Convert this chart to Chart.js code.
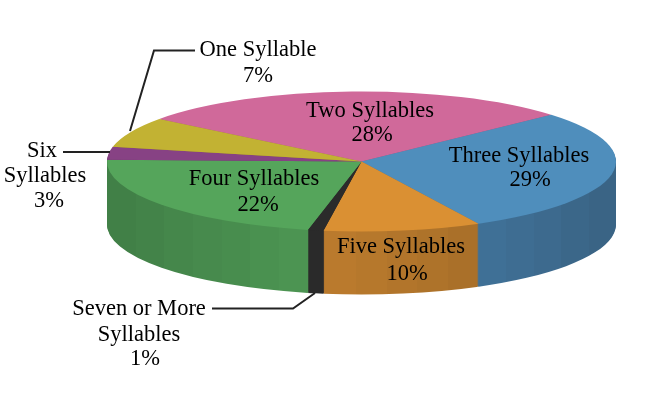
<!DOCTYPE html>
<html>
<head>
<meta charset="utf-8">
<title>Syllables</title>
<script src="https://cdn.jsdelivr.net/npm/chart.js@4"></script>
<style>
  html, body { margin: 0; padding: 0; background: #fff; }
  #wrap { width: 650px; height: 400px; }
</style>
</head>
<body>
<div id="wrap"><canvas id="grafico" width="650" height="400"></canvas></div>
<script>
const categorias = ['Two Syllables', 'Three Syllables', 'Five Syllables', 'Seven or More Syllables', 'Four Syllables', 'Six Syllables', 'One Syllable'];
const valores = [28, 29, 10, 1, 22, 3, 7];
const linhasNome = [['Two Syllables'], ['Three Syllables'], ['Five Syllables'], ['Seven or More', 'Syllables'], ['Four Syllables'], ['Six', 'Syllables'], ['One Syllable']];

const coresTopo = ['#D0699A', '#4F8EBC', '#DA9033', '#2B2B2B', '#55A55B', '#874284', '#C2B233'];
// lateral: cor na esquerda e na direita da fatia
const coresLado = [
  [[165, 82, 122], [165, 82, 122]], [[63, 112, 150], [58, 100, 133]], [[186, 122, 45], [170, 112, 41]], [[42, 42, 42], [42, 42, 42]],
  [[65, 128, 71], [76, 148, 82]], [[107, 52, 105], [107, 52, 105]], [[154, 141, 40], [154, 141, 40]]
];

// [x, baseline] de cada linha do rotulo, na mesma ordem de categorias
const posRotulos = [
  [[370, 117], [372, 141]],
  [[519, 162], [530, 186]],
  [[401, 253], [407, 280]],
  [[139, 315], [139, 341], [145, 365]],
  [[254, 185], [258, 211]],
  [[42, 157], [45, 182], [49, 207]],
  [[258, 56], [258, 82]]
];

const linhasGuia = [
  [[130, 131], [154, 50.5], [195, 50.5]],
  [[63, 152], [110, 152]],
  [[212, 308.5], [293, 308.5], [315, 293]]
];

const ACHATAMENTO = 70 / 254.5;
const ALTURA = 63;
const LARGURA_FAIXA = 30;

function faixaX(arco, raio) {
  // faixa horizontal visivel da lateral (metade de baixo da elipse)
  let min = Infinity;
  let max = -Infinity;
  for (let a = arco.startAngle; a <= arco.endAngle; a += 0.01) {
    if (Math.sin(a) >= 0) {
      const x = arco.x + Math.cos(a) * raio;
      if (x < min) min = x;
      if (x > max) max = x;
    }
  }
  return [min, max];
}

function misturar(c1, c2, t) {
  const c = c1.map((v, i) => Math.round(v + (c2[i] - v) * t));
  return `rgb(${c[0]}, ${c[1]}, ${c[2]})`;
}

// gradiente em degraus, imita as facetas verticais da lateral
function gradienteLado(ctx, faixa, cores) {
  const larg = faixa[1] - faixa[0];
  if (faixa[0] === Infinity || larg < 1) return misturar(cores[0], cores[1], 0);
  const g = ctx.createLinearGradient(faixa[0], 0, faixa[1], 0);
  const n = Math.max(1, Math.round(larg / LARGURA_FAIXA));
  for (let k = 0; k < n; k++) {
    const cor = misturar(cores[0], cores[1], n === 1 ? 0 : k / (n - 1));
    g.addColorStop(k / n, cor);
    g.addColorStop((k + 1) / n, cor);
  }
  return g;
}

const pizza3d = {
  id: 'pizza3d',
  beforeDatasetsDraw(chart) {
    const ctx = chart.ctx;
    const arcos = chart.getDatasetMeta(0).data;
    const cx = arcos[0].x;
    const cy = arcos[0].y;

    ctx.save();
    ctx.translate(cx, cy);
    ctx.scale(1, ACHATAMENTO);
    ctx.translate(-cx, -cy);

    const preenchimentos = arcos.map((arco, i) => gradienteLado(ctx, faixaX(arco, arco.outerRadius), coresLado[i]));

    // lateral: empilha as fatias de baixo para cima
    for (let d = ALTURA; d >= 1; d--) {
      ctx.save();
      ctx.translate(0, d / ACHATAMENTO);
      arcos.forEach((arco, i) => {
        const original = arco.options;
        arco.options = Object.create(original);
        arco.options.backgroundColor = preenchimentos[i];
        arco.draw(ctx);
        arco.options = original;
      });
      ctx.restore();
    }
  },
  afterDatasetsDraw(chart) {
    chart.ctx.restore();
  },
  afterDraw(chart) {
    const ctx = chart.ctx;
    ctx.save();

    ctx.strokeStyle = '#222';
    ctx.lineWidth = 2;
    linhasGuia.forEach((linha) => {
      ctx.beginPath();
      linha.forEach((p, i) => (i === 0 ? ctx.moveTo(p[0], p[1]) : ctx.lineTo(p[0], p[1])));
      ctx.stroke();
    });

    ctx.fillStyle = '#000';
    ctx.font = '22.5px "Liberation Serif"';
    ctx.textAlign = 'center';
    ctx.textBaseline = 'alphabetic';
    categorias.forEach((c, i) => {
      const textos = linhasNome[i].concat(valores[i] + '%');
      textos.forEach((t, j) => {
        ctx.fillText(t, posRotulos[i][j][0], posRotulos[i][j][1]);
      });
    });
    ctx.restore();
  }
};

new Chart(document.getElementById('grafico').getContext('2d'), {
  type: 'pie',
  data: {
    labels: categorias,
    datasets: [{
      data: valores,
      backgroundColor: coresTopo,
      borderWidth: 0,
      clip: false
    }]
  },
  options: {
    responsive: false,
    animation: false,
    radius: 254.5,
    rotation: -52.6,
    layout: { padding: { left: 73, bottom: 77 } },
    plugins: {
      legend: { display: false },
      tooltip: { enabled: false }
    }
  },
  plugins: [pizza3d]
});
</script>
</body>
</html>
